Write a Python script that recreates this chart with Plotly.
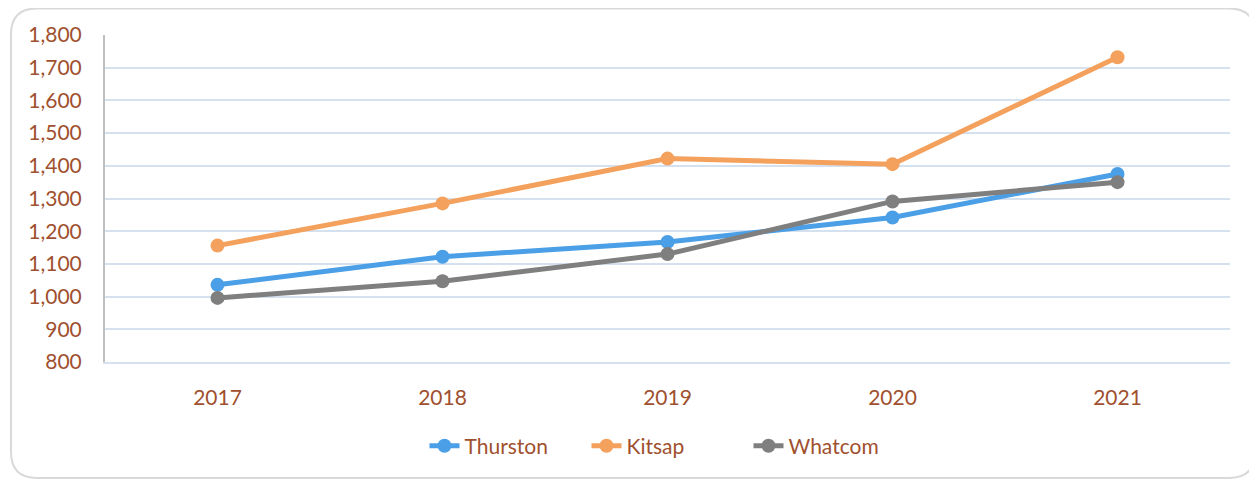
import plotly.graph_objects as go

years = ["2017", "2018", "2019", "2020", "2021"]
thurston = [1036, 1122, 1167, 1242, 1375]
kitsap = [1156, 1285, 1422, 1405, 1732]
whatcom = [996, 1047, 1130, 1291, 1350]
y_ticks = [800, 900, 1000, 1100, 1200, 1300, 1400, 1500, 1600, 1700, 1800]

series = [
    ("Thurston", thurston, "#4A9FE6"),
    ("Kitsap", kitsap, "#F4A15D"),
    ("Whatcom", whatcom, "#7F7F7F"),
]

FONT = "Lato, 'Open Sans', sans-serif"
TXT = "#A0502E"
FS = 21

fig = go.Figure()
for name, vals, col in series:
    fig.add_trace(go.Scatter(
        x=years, y=vals, name=name, mode="lines+markers",
        line=dict(color=col, width=5),
        marker=dict(color=col, size=14),
    ))

# page body has an 8px margin; figure is sized to fit the window
W, H = 1249, 472
L, R, T, B = 97, 27, 27, 118

fig.update_layout(
    width=W, height=H,
    margin=dict(l=L, r=R, t=T, b=B),
    paper_bgcolor="white", plot_bgcolor="white",
    font=dict(family=FONT, size=FS, color=TXT),
    showlegend=True,
    legend=dict(orientation="h", xanchor="left", yanchor="middle",
                x=0.284, y=-0.257, font=dict(size=FS, color=TXT),
                itemwidth=30, tracegroupgap=0,
                entrywidth=117, entrywidthmode="pixels"),
    xaxis=dict(type="category", range=[-0.5, 4.5], showgrid=False,
               showline=True, linecolor="#D6E1F0", linewidth=2,
               zeroline=False, ticks="",
               tickfont=dict(size=FS, color=TXT), ticklabelstandoff=16),
    yaxis=dict(range=[800, 1800], tickvals=y_ticks, tickformat=",d",
               showgrid=True, gridcolor="#D6E1F0", gridwidth=2,
               showline=True, linecolor="#BFBFBF", linewidth=2,
               zeroline=False, ticks="", ticklabelstandoff=17,
               tickfont=dict(size=FS, color=TXT)),
)

def px(xp):
    return (xp - L) / (W - L - R)
def py(yp):
    return 1 - (yp - T) / (H - T - B)

x0, y0, x1, y1, r = 3, 0.5, 1247, 470, 26
path = (f"M {px(x0+r)} {py(y0)} L {px(x1-r)} {py(y0)} "
        f"Q {px(x1)} {py(y0)} {px(x1)} {py(y0+r)} "
        f"L {px(x1)} {py(y1-r)} Q {px(x1)} {py(y1)} {px(x1-r)} {py(y1)} "
        f"L {px(x0+r)} {py(y1)} Q {px(x0)} {py(y1)} {px(x0)} {py(y1-r)} "
        f"L {px(x0)} {py(y0+r)} Q {px(x0)} {py(y0)} {px(x0+r)} {py(y0)} Z")
fig.add_shape(type="path", path=path, xref="paper", yref="paper",
              line=dict(color="#D9D9D9", width=2), layer="below")

fig.write_html("out.html")
